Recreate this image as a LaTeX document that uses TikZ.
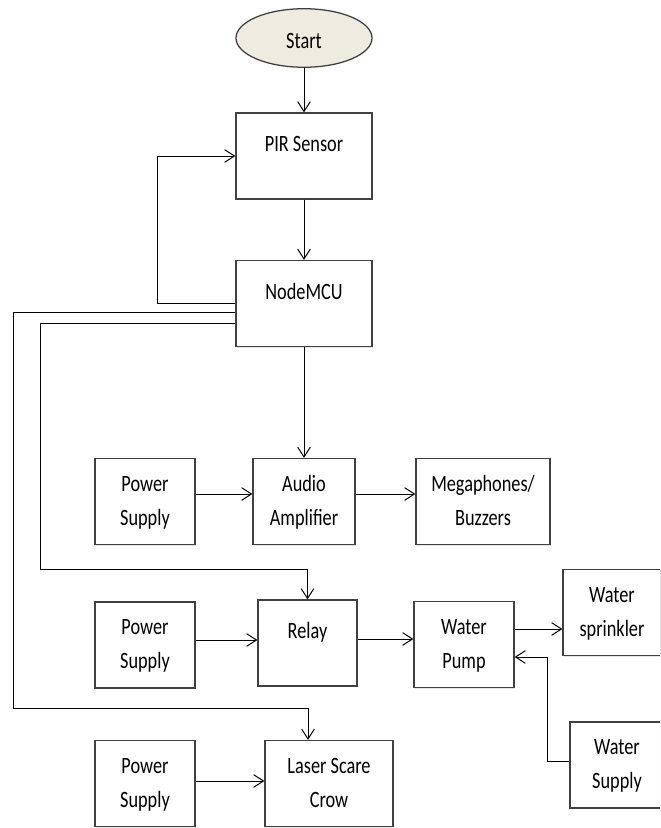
\documentclass[tikz,border=0pt]{standalone}
\usepackage{fontspec}
\setmainfont{Carlito}
\usepackage{graphicx}
\usetikzlibrary{arrows.meta,shapes.geometric,shadows,calc}

\definecolor{startfill}{RGB}{238,236,225}
\definecolor{boxline}{RGB}{64,64,64}
\newcommand{\boxtext}[1]{\scalebox{1}[1.28]{\begin{tabular}{@{}c@{}}#1\end{tabular}}}

\begin{document}
\begin{tikzpicture}[x=0.025cm, y=-0.025cm,
  font=\fontsize{13}{19}\selectfont,
  blk/.style={draw=boxline, line width=0.9pt, fill=white, inner sep=0pt,
    minimum height=2.15cm, drop shadow={opacity=0.2, shadow xshift=1pt, shadow yshift=-1pt}},
  arr/.style={-{Straight Barb[length=7pt,width=9pt]}, line width=0.7pt}]
  \useasboundingbox (0,0) rectangle (660,828);
  \clip (0,0) rectangle (660,828);

  % Main chain
  \node[ellipse, draw=boxline, line width=0.9pt, fill=startfill, minimum width=3.4cm,
    minimum height=1.4cm, inner sep=0pt] (start) at (304,38) {\boxtext{\mbox{}\\[-15pt]Start}};
  \node[blk, minimum width=3.4cm] (pir) at (304,156) {\boxtext{PIR Sensor\\[-6.7pt]\mbox{}}};
  \node[blk, minimum width=3.4cm] (mcu) at (304,303.5) {\boxtext{NodeMCU\\[-6.7pt]\mbox{}}};

  % Audio row
  \node[blk, minimum width=2.5cm] (ps1) at (145,501.5) {\boxtext{Power\\Supply}};
  \node[blk, minimum width=2.55cm] (amp) at (304,501.5) {\boxtext{Audio\\Amplifier}};
  \node[blk, minimum width=3.35cm] (mega) at (483,501.5) {\boxtext{Megaphones/\\Buzzers}};

  % Relay row
  \node[blk, minimum width=2.5cm] (ps2) at (145,645) {\boxtext{Power\\Supply}};
  \node[blk, minimum width=2.475cm] (relay) at (307.5,643) {\boxtext{Relay\\[-6.7pt]\mbox{}}};
  \node[blk, minimum width=2.5cm] (pump) at (464,644.5) {\boxtext{Water\\Pump}};
  \node[blk, minimum width=2.45cm] (sprk) at (612,612.5) {\boxtext{Water\\sprinkler}};
  \node[blk, minimum width=2.35cm] (wsup) at (617,765) {\boxtext{Water\\Supply}};

  % Laser row
  \node[blk, minimum width=2.5cm] (ps3) at (145,783.5) {\boxtext{Power\\Supply}};
  \node[blk, minimum width=3.2cm] (laser) at (329,783.5) {\boxtext{Laser Scare\\Crow}};

  % Connectors
  \draw[arr] (start) -- (pir);
  \draw[arr] (pir) -- (mcu);
  \draw[arr] (mcu.west) -- ++(-78,0) |- (pir.west);
  \draw[arr] (mcu) -- (amp);
  \draw[arr] ($(mcu.west)+(0,8.5)$) -| (13,708) -| ($(laser.north)+(-21,0)$);
  \draw[arr] ($(mcu.west)+(0,19.5)$) -| (40,569) -| (relay.north);
  \draw[arr] ($(ps1.east)+(0,-7.5)$) -- ($(amp.west)+(0,-7.5)$);
  \draw[arr] ($(amp.east)+(0,-7.5)$) -- ($(mega.west)+(0,-7.5)$);
  \draw[arr] ($(ps2.east)+(0,-5)$) -- ($(relay.west)+(0,-3)$);
  \draw[arr] ($(relay.east)+(0,-4)$) -- ($(pump.west)+(0,-5.5)$);
  \draw[arr] ($(pump.east)+(0,-15.5)$) coordinate (pout) -- (pout -| sprk.west);
  \draw[arr] ($(wsup.west)+(0,-4)$) -- ++(-22,0) |- ($(pump.east)+(0,12.5)$);
  \draw[arr] ($(ps3.east)+(0,-2.5)$) -- ($(laser.west)+(0,-2.5)$);
\end{tikzpicture}
\end{document}
